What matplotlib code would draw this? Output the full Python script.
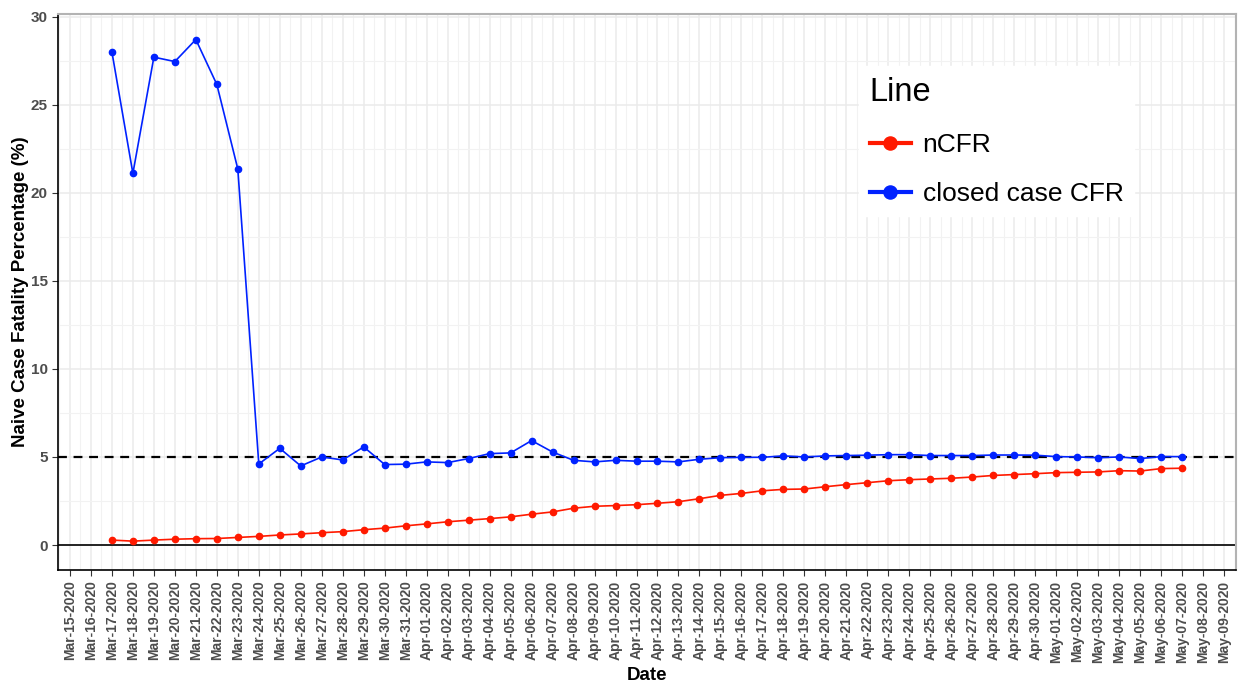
import matplotlib
matplotlib.use('Agg')
import matplotlib.pyplot as plt
import matplotlib.dates as mdates
import numpy as np
import pandas as pd

plt.rcParams['font.family'] = ['Liberation Sans', 'DejaVu Sans']

# datos
fechas = pd.date_range('2020-03-17', '2020-05-07', freq='D')

ncfr = [0.28, 0.22, 0.28, 0.33, 0.36, 0.37, 0.43, 0.49, 0.57, 0.63, 0.70, 0.76,
        0.87, 0.96, 1.09, 1.20, 1.32, 1.41, 1.50, 1.60, 1.75, 1.88, 2.09, 2.20,
        2.24, 2.29, 2.37, 2.46, 2.63, 2.82, 2.93, 3.08, 3.16, 3.18, 3.31, 3.43,
        3.54, 3.65, 3.71, 3.75, 3.79, 3.86, 3.95, 4.00, 4.05, 4.11, 4.13, 4.15,
        4.22, 4.20, 4.34, 4.36]

closed_cfr = [28.0, 21.1, 27.7, 27.45, 28.7, 26.15, 21.35, 4.60, 5.49, 4.49, 5.00,
              4.83, 5.57, 4.57, 4.59, 4.72, 4.68, 4.91, 5.19, 5.23, 5.93, 5.28,
              4.81, 4.72, 4.81, 4.76, 4.76, 4.72, 4.87, 4.96, 4.98, 4.98, 5.06,
              5.00, 5.06, 5.08, 5.10, 5.13, 5.13, 5.08, 5.08, 5.08, 5.11, 5.11,
              5.10, 5.02, 5.00, 4.96, 5.00, 4.91, 5.02, 5.02]

etiquetas = pd.date_range('2020-03-15', '2020-05-09', freq='D')

fig = plt.figure(figsize=(12.44, 6.83), dpi=100)
ax = fig.add_axes([0.0466, 0.1654, 0.947, 0.8141])

# rejilla tipo ggplot
medio_dia = pd.date_range('2020-03-14 12:00', '2020-05-09 12:00', freq='D')
ax.set_xticks(mdates.date2num(medio_dia), minor=True)
ax.set_yticks(np.arange(-2.5, 32.5, 5), minor=True)
ax.grid(which='major', color='#ebebeb', linewidth=1.1)
ax.grid(which='minor', color='#f2f2f2', linewidth=0.8)
ax.set_axisbelow(True)

ax.axhline(0, color='black', linewidth=1.2)
ax.axhline(5, color='black', linewidth=1.6, linestyle=(0, (4, 3)))

ax.plot(fechas, ncfr, color='#ff1a00', marker='o', markersize=4.5, linewidth=1.2, label='nCFR')
ax.plot(fechas, closed_cfr, color='#0022ff', marker='o', markersize=4.5, linewidth=1.2,
        label='closed case CFR')

ax.set_xticks(mdates.date2num(etiquetas))
ax.set_xticklabels([d.strftime('%b-%d-%Y') for d in etiquetas], rotation=90,
                   fontsize=10, fontweight='bold', color='#4d4d4d')
ax.set_yticks([0, 5, 10, 15, 20, 25, 30])
ax.set_yticklabels(['0', '5', '10', '15', '20', '25', '30'], fontsize=11,
                   fontweight='bold', color='#4d4d4d')
ax.tick_params(which='minor', length=0)
ax.tick_params(which='major', length=4, color='#333333')

ax.set_xlim(mdates.date2num(pd.Timestamp('2020-03-15')) - 0.57,
            mdates.date2num(pd.Timestamp('2020-05-09')) + 0.57)
ax.set_ylim(-1.42, 30.15)

ax.set_xlabel('Date', fontsize=13.5, fontweight='bold', labelpad=3)
ax.set_ylabel('Naive Case Fatality Percentage (%)', fontsize=13.5, fontweight='bold', labelpad=1)

for lado in ['top', 'right']:
    ax.spines[lado].set_color('#b3b3b3')
    ax.spines[lado].set_linewidth(1.5)
for lado in ['left', 'bottom']:
    ax.spines[lado].set_color('black')
    ax.spines[lado].set_linewidth(1.2)

leg = ax.legend(title='Line', loc='upper left', bbox_to_anchor=(0.669, 0.93),
                fontsize=19, title_fontsize=23.5, frameon=True, fancybox=False,
                edgecolor='white', framealpha=1, handlelength=1.55, handletextpad=0.45,
                markerscale=2.1, labelspacing=0.95, borderpad=0.4)
leg._legend_box.align = 'left'
for linea in leg.get_lines():
    linea.set_linewidth(3)

fig.savefig('out.png', dpi=100)
